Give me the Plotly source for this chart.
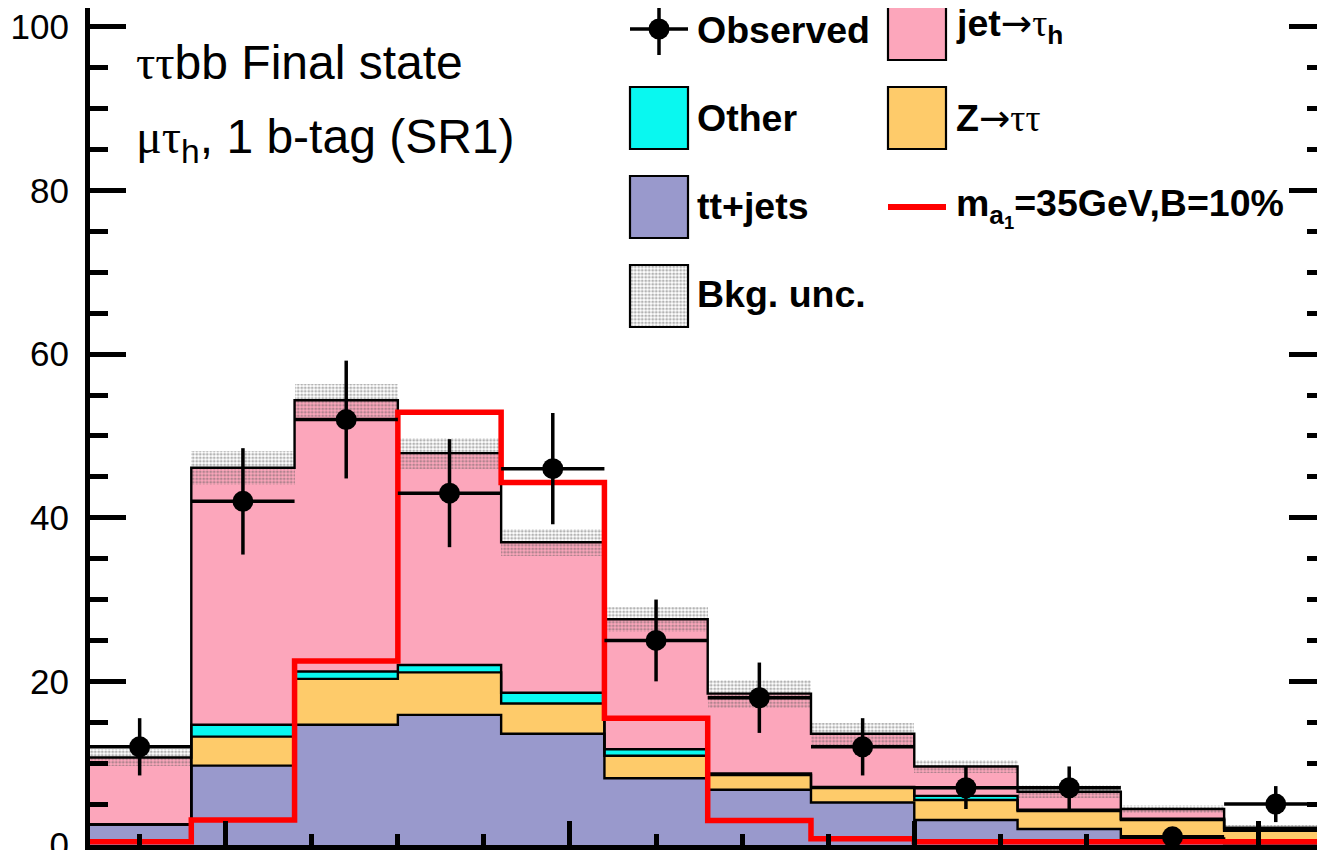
import plotly.graph_objects as go

# ---------------- data ----------------
bin_edges = [60, 90, 120, 150, 180, 210, 240, 270, 300, 330, 360, 390, 420]
ttjets   = [2.5, 9.7, 14.7, 15.9, 13.6, 8.15, 6.75, 5.2, 3.05, 1.96, 0.8, 0.2]
ztautau  = [0.0, 3.55, 5.6, 5.2, 3.7, 2.75, 1.8, 1.75, 2.45, 2.2, 2.25, 1.55]
other    = [0.0, 1.45, 0.9, 0.9, 1.3, 0.8, 0.2, 0.15, 0.5, 0.15, 0.15, 0.05]
jetfake  = [8.2, 31.4, 33.15, 25.9, 18.4, 15.9, 9.75, 6.5, 3.6, 2.2, 1.2, 0.3]
bkg_unc  = [1.0, 2.1, 2.05, 1.9, 1.65, 1.55, 1.7, 1.35, 0.8, 0.8, 0.5, 0.35]
signal   = [0.4, 3.05, 22.5, 52.9, 44.3, 15.5, 3.0, 0.75, 0.4, 0.4, 0.4, 0.4]
observed = [12, 42, 52, 43, 46, 25, 18, 12, 7, 7, 1, 5]
obs_err  = [3.5, 6.5, 7.2, 6.6, 6.8, 5.0, 4.3, 3.5, 2.6, 2.6, 1.0, 2.2]
y_ticks  = [0, 20, 40, 60, 80, 100]
x_major  = [100, 200, 300, 400]

# ---------------- styles ----------------
C_PINK = "#FCA6BB"
C_CYAN = "#09F8F0"
C_ORANGE = "#FECB6A"
C_PURPLE = "#9999CC"
C_RED = "#FF0000"
W, H = 1325, 850
OFF = 8  # page offset of the figure inside the browser page
FONT = "Liberation Sans"
SERIF = "Liberation Serif"
HATCH = dict(shape=".", size=3.5, solidity=0.5, fgcolor="rgba(95,95,95,0.95)",
             bgcolor="rgba(0,0,0,0)", fillmode="overlay")


def px(x):
    """page pixel x -> paper coordinate"""
    return (x - OFF) / W


def py(y):
    """page pixel y -> paper coordinate"""
    return (H - (y - OFF)) / H


centers = [(a + b) / 2 for a, b in zip(bin_edges[:-1], bin_edges[1:])]
widths = [b - a for a, b in zip(bin_edges[:-1], bin_edges[1:])]
half = [w / 2 for w in widths]

c1 = list(ttjets)
c2 = [a + b for a, b in zip(c1, ztautau)]
c3 = [a + b for a, b in zip(c2, other)]
c4 = [a + b for a, b in zip(c3, jetfake)]

fig = go.Figure()

# stacked filled components (explicit bases)
for vals, base, col in [(ttjets, [0] * len(ttjets), C_PURPLE),
                        (ztautau, c1, C_ORANGE),
                        (other, c2, C_CYAN),
                        (jetfake, c3, C_PINK)]:
    fig.add_trace(go.Bar(x=centers, y=vals, base=base, width=widths,
                         marker=dict(color=col, line=dict(width=0)),
                         showlegend=False, hoverinfo="skip"))

# step outlines
for cum in [c1, c2, c3, c4]:
    fig.add_trace(go.Scatter(x=bin_edges, y=cum + [cum[-1]], mode="lines",
                             line=dict(color="black", width=2.4, shape="hv"),
                             showlegend=False, hoverinfo="skip"))

# background uncertainty band
fig.add_trace(go.Bar(x=centers, y=[2 * u for u in bkg_unc],
                     base=[t - u for t, u in zip(c4, bkg_unc)], width=widths,
                     marker=dict(color="rgba(0,0,0,0)", line=dict(width=0),
                                 pattern=HATCH),
                     showlegend=False, hoverinfo="skip"))

# signal
fig.add_trace(go.Scatter(x=bin_edges, y=signal + [signal[-1]], mode="lines",
                         line=dict(color=C_RED, width=5.5, shape="hv"),
                         showlegend=False, hoverinfo="skip"))

# observed
fig.add_trace(go.Scatter(x=centers, y=observed, mode="markers",
                         marker=dict(color="black", size=21, symbol="circle"),
                         error_y=dict(type="data", array=obs_err, color="black",
                                      thickness=3.5, width=0),
                         error_x=dict(type="data", array=half, color="black",
                                      thickness=3.5, width=0),
                         showlegend=False, hoverinfo="skip"))

# legend patch for Bkg. unc. (pattern-filled bar on its own hidden axes)
fig.add_trace(go.Bar(x=[0], y=[1], width=[1], xaxis="x3", yaxis="y3",
                     marker=dict(color="rgba(0,0,0,0)", line=dict(width=0),
                                 pattern=HATCH),
                     showlegend=False, hoverinfo="skip"))

# dummy trace so the right axis is drawn
fig.add_trace(go.Scatter(x=[centers[0]], y=[0], yaxis="y2", mode="markers",
                         marker=dict(opacity=0), showlegend=False,
                         hoverinfo="skip"))

tick_common = dict(ticks="inside", tickcolor="black", tickwidth=5)
Y_RANGE = [0, 102.3]

fig.update_layout(
    width=W, height=H,
    margin=dict(l=0, r=0, t=0, b=0, autoexpand=False),
    paper_bgcolor="white", plot_bgcolor="white",
    barmode="overlay", bargap=0,
    showlegend=False,
    font=dict(family=FONT, color="black"),
    xaxis=dict(domain=[px(90), px(1325)], range=[60.58, 419.3], showgrid=False,
               zeroline=False, showline=True, linecolor="black", linewidth=5,
               tickvals=x_major, ticklen=24, showticklabels=False,
               automargin=False,
               minor=dict(tickmode="linear", tick0=0, dtick=25, ticklen=11,
                          **tick_common),
               **tick_common),
    yaxis=dict(domain=[py(845), 1.0], range=Y_RANGE, showgrid=False,
               zeroline=False, showline=True, linecolor="black", linewidth=5,
               tickvals=y_ticks, ticktext=[str(v) for v in y_ticks],
               ticklen=36, tickfont=dict(family=FONT, size=35, color="black"),
               ticklabelstandoff=9, ticklabeloverflow="allow",
               automargin=False,
               minor=dict(tickmode="linear", tick0=0, dtick=5, ticklen=18,
                          **tick_common),
               **tick_common),
    yaxis2=dict(overlaying="y", side="right", anchor="x", range=Y_RANGE,
                showgrid=False, zeroline=False, showline=False,
                tickvals=y_ticks, ticklen=36, showticklabels=False,
                automargin=False,
                minor=dict(tickmode="linear", tick0=0, dtick=5, ticklen=18,
                           **tick_common),
                **tick_common),
    xaxis3=dict(domain=[px(630), px(688)], range=[-0.5, 0.5], visible=False,
                anchor="y3", automargin=False),
    yaxis3=dict(domain=[py(327), py(265)], range=[0, 1], visible=False,
                anchor="x3", automargin=False),
)

shapes = []


def box(x0, x1, y0, y1, fill):
    shapes.append(dict(type="rect", xref="paper", yref="paper",
                       x0=px(x0), x1=px(x1), y0=py(y1), y1=py(y0),
                       fillcolor=fill, line=dict(color="black", width=2.2)))


box(888, 946, -3, 60, C_PINK)
box(630, 688, 87, 149, C_CYAN)
box(888, 946, 87, 149, C_ORANGE)
box(630, 688, 176, 238, C_PURPLE)
box(630, 688, 265, 327, "rgba(0,0,0,0)")
shapes.append(dict(type="line", xref="paper", yref="paper",
                   x0=px(888), x1=px(946), y0=py(207), y1=py(207),
                   line=dict(color=C_RED, width=6)))
# observed glyph
shapes.append(dict(type="line", xref="paper", yref="paper",
                   x0=px(630), x1=px(688), y0=py(29), y1=py(29),
                   line=dict(color="black", width=3.5)))
shapes.append(dict(type="line", xref="paper", yref="paper",
                   x0=px(659), x1=px(659), y0=py(3), y1=py(55),
                   line=dict(color="black", width=3.5)))
shapes.append(dict(type="circle", xref="paper", yref="paper",
                   x0=px(648.5), x1=px(669.5), y0=py(39.5), y1=py(18.5),
                   fillcolor="black", line=dict(color="black", width=0)))
fig.update_layout(shapes=shapes)


def sym(s):
    return f"<span style=\"font-family:'{SERIF}';font-weight:normal\">{s}</span>"


def arrow():
    return "<span style=\"font-family:'DejaVu Sans';font-weight:normal\">\u2192</span>"


def label(x, y, text, size=37.5, bold=True):
    fig.add_annotation(xref="paper", yref="paper", x=px(x), y=py(y),
                       xanchor="left", yanchor="middle", showarrow=False,
                       text=text, borderpad=0,
                       font=dict(family=FONT, size=size, color="black",
                                 weight="bold" if bold else "normal"))


label(696, 30, "Observed")
label(696, 118, "Other")
label(696, 206, "tt+jets")
label(696, 294, "Bkg. unc.")
label(955, 25, "jet" + arrow() + sym("\u03c4") + "<sub>h</sub>")
label(955, 118, "Z" + arrow() + sym("\u03c4\u03c4"))
label(955, 207, "m<sub>a<sub>1</sub></sub>=35GeV,B=10%")

label(135, 63, sym("\u03c4\u03c4") + "bb Final state", size=48, bold=False)
label(135, 140, sym("\u03bc\u03c4") + "<sub>h</sub>, 1 b-tag (SR1)", size=48, bold=False)

fig.write_html("out.html")
